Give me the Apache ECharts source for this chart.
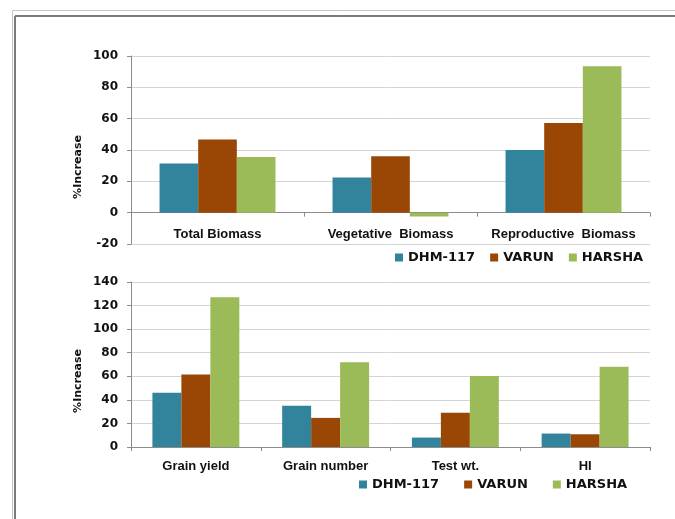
<!DOCTYPE html>
<html>
<head>
<meta charset="utf-8">
<script src="https://cdn.jsdelivr.net/npm/echarts@6/dist/echarts.min.js"></script>
<style>
  html, body { margin: 0; padding: 0; background: #fff; }
  #chart { width: 675px; height: 519px; }
</style>
</head>
<body>
<div id="chart"></div>
<script>
// Biomass panel
const biomassCategories = ['Total Biomass', 'Vegetative  Biomass', 'Reproductive  Biomass'];
const biomassDHM = [31.4, 22.5, 40];
const biomassVARUN = [46.7, 36, 57.2];
const biomassHARSHA = [35.5, -2.5, 93.5];

// Grain panel
const grainCategories = ['Grain yield', 'Grain number', 'Test wt.', 'HI'];
const grainDHM = [46, 35, 8, 11.4];
const grainVARUN = [61.6, 24.7, 29, 10.8];
const grainHARSHA = [127, 72, 60.2, 68];

const seriesNames = ['DHM-117', 'VARUN', 'HARSHA'];
const colors = ['#31849B', '#9A4706', '#9BBB59'];

const tickFont = { fontFamily: 'DejaVu Sans', fontWeight: 'bold', fontSize: 12, color: '#111' };
const catFont = { fontFamily: 'Liberation Sans', fontWeight: 'bold', fontSize: 13, color: '#111' };
const legendFont = { fontFamily: 'DejaVu Sans', fontWeight: 'bold', fontSize: 13, color: '#111' };

function valueAxis(gridIndex, min, max) {
  return {
    type: 'value', gridIndex, min, max, interval: 20,
    axisLine: { show: true, lineStyle: { color: '#8c8c8c', width: 1 } },
    axisTick: { show: true, length: 4, lineStyle: { color: '#8c8c8c' } },
    splitLine: { show: true, lineStyle: { color: '#d4d4d4', width: 1 } },
    axisLabel: Object.assign({ margin: 13 }, tickFont)
  };
}

function categoryAxis(gridIndex, data, margin) {
  return {
    type: 'category', gridIndex, data,
    axisLine: { show: true, onZero: true, lineStyle: { color: '#8c8c8c', width: 1 } },
    axisTick: { show: true, length: 4, lineStyle: { color: '#8c8c8c' } },
    axisLabel: Object.assign({ margin, interval: 0 }, catFont)
  };
}

function barSeries(name, data, idx, axisIdx) {
  return {
    type: 'bar', name, data,
    xAxisIndex: axisIdx, yAxisIndex: axisIdx,
    barGap: '0%', barCategoryGap: '33%',
    itemStyle: { color: colors[idx] },
    emphasis: { disabled: true },
    animation: false
  };
}

const chart = echarts.init(document.getElementById('chart'), null, { renderer: 'canvas' });

chart.setOption({
  backgroundColor: '#ffffff',
  animation: false,
  grid: [
    { left: 131, right: 25, top: 56, height: 188 },
    { left: 131, right: 25, top: 282, height: 165 }
  ],
  xAxis: [
    // labels sit between the zero line and the -20 gridline
    categoryAxis(0, biomassCategories, -16),
    categoryAxis(1, grainCategories, 13)
  ],
  yAxis: [
    valueAxis(0, -20, 100),
    valueAxis(1, 0, 140)
  ],
  legend: [
    {
      data: seriesNames, left: 395, top: 251,
      itemWidth: 8, itemHeight: 8, itemGap: 15,
      icon: 'rect', textStyle: legendFont, padding: 0
    },
    {
      data: seriesNames.map(n => n), left: 359, top: 478,
      itemWidth: 8, itemHeight: 8, itemGap: 25,
      icon: 'rect', textStyle: legendFont, padding: 0
    }
  ],
  series: [
    barSeries('DHM-117', biomassDHM, 0, 0),
    barSeries('VARUN', biomassVARUN, 1, 0),
    barSeries('HARSHA', biomassHARSHA, 2, 0),
    barSeries('DHM-117', grainDHM, 0, 1),
    barSeries('VARUN', grainVARUN, 1, 1),
    barSeries('HARSHA', grainHARSHA, 2, 1)
  ],
  graphic: [
    // window frame
    { type: 'line', shape: { x1: 12.5, y1: 10.5, x2: 675, y2: 10.5 }, style: { stroke: '#c4c4c4', lineWidth: 1 } },
    { type: 'line', shape: { x1: 12.5, y1: 10.5, x2: 12.5, y2: 519 }, style: { stroke: '#c4c4c4', lineWidth: 1 } },
    { type: 'line', shape: { x1: 15, y1: 16, x2: 675, y2: 16 }, style: { stroke: '#7a7a7a', lineWidth: 2 } },
    { type: 'line', shape: { x1: 15, y1: 16, x2: 15, y2: 519 }, style: { stroke: '#7a7a7a', lineWidth: 2 } },
    // axis titles
    {
      type: 'text', x: 78, y: 167, rotation: Math.PI / 2,
      style: { text: '%Increase', fontFamily: 'DejaVu Sans', fontWeight: 'bold', fontSize: 11, fill: '#111', align: 'center', verticalAlign: 'middle' }
    },
    {
      type: 'text', x: 78, y: 381, rotation: Math.PI / 2,
      style: { text: '%Increase', fontFamily: 'DejaVu Sans', fontWeight: 'bold', fontSize: 11, fill: '#111', align: 'center', verticalAlign: 'middle' }
    }
  ]
});
</script>
</body>
</html>
